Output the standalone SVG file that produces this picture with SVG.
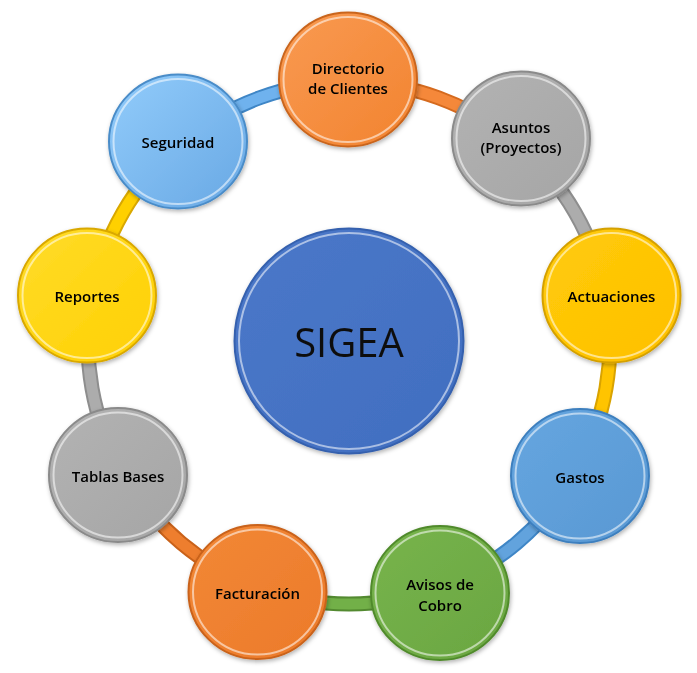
<svg xmlns="http://www.w3.org/2000/svg" width="697" height="673" viewBox="0 0 697 673">
<defs>
<filter id="sh" x="-20%" y="-20%" width="140%" height="140%"><feDropShadow dx="1" dy="2" stdDeviation="2" flood-color="#000" flood-opacity="0.3"/></filter>
<linearGradient id="gOr1" x1="0" y1="0" x2="1" y2="1"><stop offset="0" stop-color="#F99A52"/><stop offset="1" stop-color="#F2832F"/></linearGradient>
<linearGradient id="gOr2" x1="0" y1="0" x2="1" y2="1"><stop offset="0" stop-color="#F28836"/><stop offset="1" stop-color="#EC7A2A"/></linearGradient>
<linearGradient id="gGr" x1="0" y1="0" x2="1" y2="1"><stop offset="0" stop-color="#B3B3B3"/><stop offset="1" stop-color="#A5A5A5"/></linearGradient>
<linearGradient id="gYe1" x1="0" y1="0" x2="1" y2="1"><stop offset="0" stop-color="#FFCB0A"/><stop offset="1" stop-color="#FFC000"/></linearGradient>
<linearGradient id="gYe2" x1="0" y1="0" x2="1" y2="1"><stop offset="0" stop-color="#FFDC2A"/><stop offset="1" stop-color="#FFD000"/></linearGradient>
<linearGradient id="gBl1" x1="0" y1="0" x2="1" y2="1"><stop offset="0" stop-color="#66A6E0"/><stop offset="1" stop-color="#5898D3"/></linearGradient>
<linearGradient id="gBl2" x1="0" y1="0" x2="1" y2="1"><stop offset="0" stop-color="#92CCFB"/><stop offset="1" stop-color="#68A8E4"/></linearGradient>
<linearGradient id="gGn" x1="0" y1="0" x2="1" y2="1"><stop offset="0" stop-color="#77B44C"/><stop offset="1" stop-color="#6AA641"/></linearGradient>
<linearGradient id="gCe" x1="0" y1="0" x2="1" y2="1"><stop offset="0" stop-color="#4A78C9"/><stop offset="1" stop-color="#416EC0"/></linearGradient>
</defs>
<style>
.band{fill:none;stroke-width:15}
.bandc{fill:none;stroke-width:11}
.rim{fill:none;stroke:#ffffff;stroke-opacity:0.55;stroke-width:2}
.lbl{font-family:"Open Sans","Noto Sans","DejaVu Sans",sans-serif;font-weight:600;font-size:15px;fill:#000;text-anchor:middle}
.big{font-family:"Open Sans","Noto Sans","DejaVu Sans",sans-serif;font-size:40px;fill:#111;text-anchor:middle}
</style>
<g id="connectors">
<path class="band" stroke="#3F86C6" d="M181.2 143.1 A261 261 0 0 1 349 82"/>
<path class="bandc" stroke="#6FB2EE" d="M181.2 143.1 A261 261 0 0 1 349 82"/>
<path class="band" stroke="#D56A1E" d="M349 82 A261 261 0 0 1 516.8 143.1"/>
<path class="bandc" stroke="#F5883A" d="M349 82 A261 261 0 0 1 516.8 143.1"/>
<path class="band" stroke="#8E8E8E" d="M516.8 143.1 A261 261 0 0 1 606 297.7"/>
<path class="bandc" stroke="#ACACAC" d="M516.8 143.1 A261 261 0 0 1 606 297.7"/>
<path class="band" stroke="#D9A300" d="M606 297.7 A261 261 0 0 1 575 473.5"/>
<path class="bandc" stroke="#FFC400" d="M606 297.7 A261 261 0 0 1 575 473.5"/>
<path class="band" stroke="#3F86C6" d="M575 473.5 A261 261 0 0 1 438.3 588.3"/>
<path class="bandc" stroke="#62A3DD" d="M575 473.5 A261 261 0 0 1 438.3 588.3"/>
<path class="band" stroke="#538A30" d="M438.3 588.3 A261 261 0 0 1 259.7 588.3"/>
<path class="bandc" stroke="#72B048" d="M438.3 588.3 A261 261 0 0 1 259.7 588.3"/>
<path class="band" stroke="#C9621A" d="M259.7 588.3 A261 261 0 0 1 123 473.5"/>
<path class="bandc" stroke="#EE7E2E" d="M259.7 588.3 A261 261 0 0 1 123 473.5"/>
<path class="band" stroke="#8E8E8E" d="M123 473.5 A261 261 0 0 1 92 297.7"/>
<path class="bandc" stroke="#ACACAC" d="M123 473.5 A261 261 0 0 1 92 297.7"/>
<path class="band" stroke="#D9A800" d="M92 297.7 A261 261 0 0 1 181.2 143.1"/>
<path class="bandc" stroke="#FFD000" d="M92 297.7 A261 261 0 0 1 181.2 143.1"/>
</g>
<g id="center" filter="url(#sh)">
<ellipse cx="349" cy="341" rx="114.5" ry="112.5" fill="url(#gCe)" stroke="#3561AE" stroke-width="2"/>
<ellipse class="rim" cx="349" cy="341" rx="110" ry="108"/>
<text class="big" x="349" y="357">SIGEA</text>
</g>
<g id="n-directorio" filter="url(#sh)">
<ellipse cx="348" cy="79.5" rx="69" ry="67" fill="url(#gOr1)" stroke="#C9651E" stroke-width="2"/>
<ellipse class="rim" cx="348" cy="79.5" rx="64.5" ry="62.5"/>
<text class="lbl" x="348" y="73.5">Directorio</text>
<text class="lbl" x="348" y="94">de Clientes</text>
</g>
<g id="n-asuntos" filter="url(#sh)">
<ellipse cx="521" cy="138.5" rx="69" ry="67" fill="url(#gGr)" stroke="#8A8A8A" stroke-width="2"/>
<ellipse class="rim" cx="521" cy="138.5" rx="64.5" ry="62.5"/>
<text class="lbl" x="521" y="132.5">Asuntos</text>
<text class="lbl" x="521" y="153">(Proyectos)</text>
</g>
<g id="n-actuaciones" filter="url(#sh)">
<ellipse cx="611.5" cy="295.5" rx="69" ry="67" fill="url(#gYe1)" stroke="#D4A000" stroke-width="2"/>
<ellipse class="rim" cx="611.5" cy="295.5" rx="64.5" ry="62.5"/>
<text class="lbl" x="611.5" y="302">Actuaciones</text>
</g>
<g id="n-gastos" filter="url(#sh)">
<ellipse cx="580" cy="476" rx="69" ry="67" fill="url(#gBl1)" stroke="#3D7FBE" stroke-width="2"/>
<ellipse class="rim" cx="580" cy="476" rx="64.5" ry="62.5"/>
<text class="lbl" x="580" y="482.5">Gastos</text>
</g>
<g id="n-avisos" filter="url(#sh)">
<ellipse cx="440" cy="593" rx="69" ry="67" fill="url(#gGn)" stroke="#508A2C" stroke-width="2"/>
<ellipse class="rim" cx="440" cy="593" rx="64.5" ry="62.5"/>
<text class="lbl" x="440" y="590">Avisos de</text>
<text class="lbl" x="440" y="610.5">Cobro</text>
</g>
<g id="n-facturacion" filter="url(#sh)">
<ellipse cx="257.5" cy="592" rx="69" ry="67" fill="url(#gOr2)" stroke="#C9621A" stroke-width="2"/>
<ellipse class="rim" cx="257.5" cy="592" rx="64.5" ry="62.5"/>
<text class="lbl" x="257.5" y="598.5">Facturación</text>
</g>
<g id="n-tablas" filter="url(#sh)">
<ellipse cx="118" cy="475" rx="69" ry="67" fill="url(#gGr)" stroke="#8A8A8A" stroke-width="2"/>
<ellipse class="rim" cx="118" cy="475" rx="64.5" ry="62.5"/>
<text class="lbl" x="118" y="481.5">Tablas Bases</text>
</g>
<g id="n-reportes" filter="url(#sh)">
<ellipse cx="87" cy="295.5" rx="69" ry="67" fill="url(#gYe2)" stroke="#D9A800" stroke-width="2"/>
<ellipse class="rim" cx="87" cy="295.5" rx="64.5" ry="62.5"/>
<text class="lbl" x="87" y="302">Reportes</text>
</g>
<g id="n-seguridad" filter="url(#sh)">
<ellipse cx="178" cy="141.5" rx="69" ry="67" fill="url(#gBl2)" stroke="#4A8CC8" stroke-width="2"/>
<ellipse class="rim" cx="178" cy="141.5" rx="64.5" ry="62.5"/>
<text class="lbl" x="178" y="148">Seguridad</text>
</g>
</svg>
